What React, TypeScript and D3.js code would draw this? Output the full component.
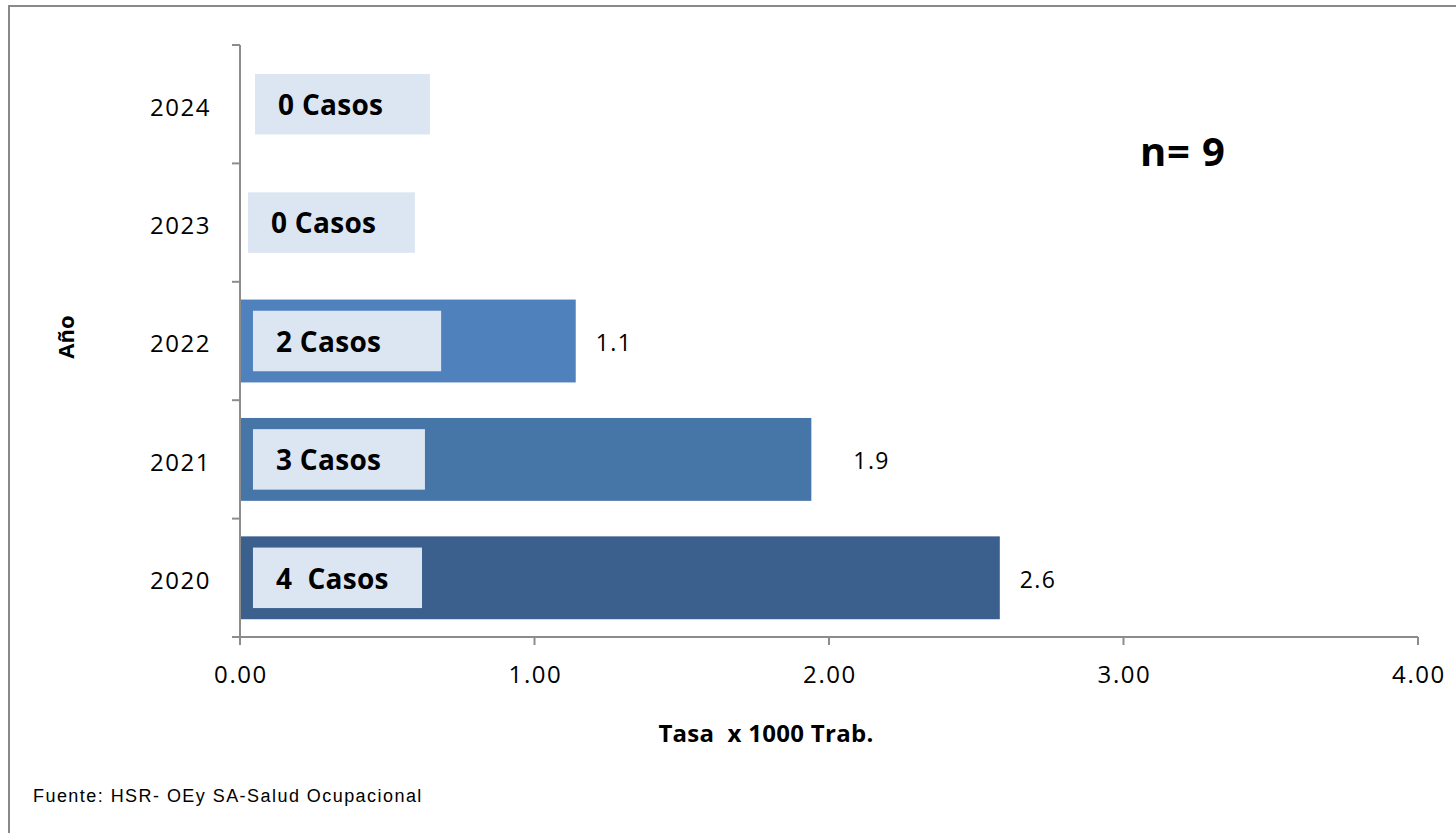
import React from "react";
import * as d3 from "d3";

const years = ["2020", "2021", "2022", "2023", "2024"];
const rates = [2.58, 1.94, 1.14, 0, 0];
const rateLabels = ["2.6", "1.9", "1.1", "", ""];
const casos = ["4  Casos", "3 Casos", "2 Casos", "0 Casos", "0 Casos"];
const barColors = ["#3b608e", "#4675a8", "#4f81bd", "#4f81bd", "#4f81bd"];
const xTicks = [0, 1, 2, 3, 4];

// annotation box extents in value units (start, end)
const boxStart = [0.044, 0.044, 0.044, 0.027, 0.051];
const boxEnd = [0.618, 0.628, 0.683, 0.594, 0.645];
const labelGap = [20, 42, 20, 0, 0];

export default function App() {
  const W = 1456, H = 833;
  const left = 240, right = 1418, top = 45, bottom = 637;
  const x = d3.scaleLinear().domain([0, 4]).range([left, right]);
  const y = d3.scaleBand<string>().domain([...years].reverse()).range([top, bottom]).paddingInner(0.3).paddingOuter(0.15);
  const band = d3.scaleBand<string>().domain([...years].reverse()).range([top, bottom]);
  const axisColor = "#8c8c8c";
  const font = "'Open Sans', 'DejaVu Sans', sans-serif";
  const boxH = y.bandwidth() * 0.73;

  return (
    <svg width={W} height={H} style={{ position: "absolute", left: 0, top: 0, background: "#fff" }}>
      <rect x={9} y={6} width={1500} height={900} fill="#fff" stroke="#898989" strokeWidth={2} />
      {/* bars */}
      {years.map((yr, i) => (
        <rect key={"b" + yr} x={x(0) + 1} y={y(yr)!} width={Math.max(0, x(rates[i]) - x(0) - 1)} height={y.bandwidth()} fill={barColors[i]} />
      ))}
      {/* annotation boxes */}
      {years.map((yr, i) => {
        const cy = y(yr)! + y.bandwidth() / 2;
        return (
          <g key={"a" + yr}>
            <rect x={x(boxStart[i])} y={cy - boxH / 2} width={x(boxEnd[i]) - x(boxStart[i])} height={boxH} fill="#dce6f2" />
            <text x={x(boxStart[i]) + 23} y={cy + 1} dy="0.35em" fontFamily={font} fontWeight="bold" fontSize={28} letterSpacing={0.3} fill="#000" style={{ whiteSpace: "pre" }}>{casos[i]}</text>
          </g>
        );
      })}
      {/* value labels */}
      {years.map((yr, i) => rateLabels[i] ? (
        <text key={"v" + yr} x={x(rates[i]) + labelGap[i]} y={y(yr)! + y.bandwidth() / 2 + 2} dy="0.35em" fontFamily={font} fontSize={23} letterSpacing={1.4} fill="#000">{rateLabels[i]}</text>
      ) : null)}
      {/* y axis */}
      <line x1={left} x2={left} y1={top} y2={bottom + 8} stroke={axisColor} strokeWidth={2} />
      {[...years.map((yr) => band(yr)!), bottom].map((t, i) => (
        <line key={"yt" + i} x1={left - 8} x2={left} y1={t} y2={t} stroke={axisColor} strokeWidth={2} />
      ))}
      {years.map((yr) => (
        <text key={"yl" + yr} x={211} y={band(yr)! + band.bandwidth() / 2 + 3} dy="0.35em" textAnchor="end" fontFamily={font} fontSize={24} letterSpacing={1.5} fill="#000">{yr}</text>
      ))}
      {/* x axis */}
      <line x1={left - 8} x2={right} y1={bottom} y2={bottom} stroke={axisColor} strokeWidth={2} />
      {xTicks.map((t) => (
        <g key={"xt" + t}>
          <line x1={x(t)} x2={x(t)} y1={bottom} y2={bottom + 8} stroke={axisColor} strokeWidth={2} />
          <text x={x(t) + 1} y={675} dy="0.35em" textAnchor="middle" fontFamily={font} fontSize={24} letterSpacing={1.6} fill="#000">{d3.format(".2f")(t)}</text>
        </g>
      ))}
      {/* titles */}
      <text x={766} y={734} dy="0.35em" textAnchor="middle" fontFamily={font} fontWeight="bold" fontSize={24} letterSpacing={0.3} fill="#000" style={{ whiteSpace: "pre" }}>{"Tasa  x 1000 Trab."}</text>
      <text transform="translate(66,337) rotate(-90)" dy="0.35em" textAnchor="middle" fontFamily={font} fontWeight="bold" fontSize={22} fill="#000">Año</text>
      <text x={1140} y={152} dy="0.35em" fontFamily={font} fontWeight="bold" fontSize={40} letterSpacing={0.8} fill="#000">n= 9</text>
      <text x={33} y={796} dy="0.35em" fontFamily="'Liberation Sans', Arial, sans-serif" fontSize={18} letterSpacing={1.45} fill="#000">Fuente: HSR- OEy SA-Salud Ocupacional</text>
    </svg>
  );
}
